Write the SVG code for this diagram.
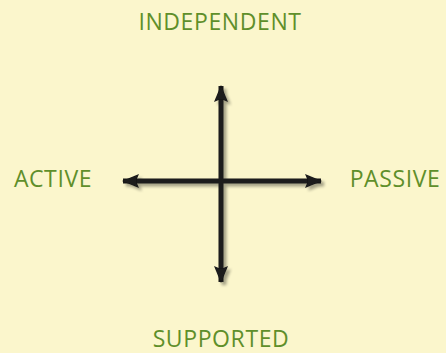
<svg xmlns="http://www.w3.org/2000/svg" width="446" height="353" viewBox="0 0 446 353">
<defs>
<style>
.lbl{font-family:"Open Sans","Liberation Sans",sans-serif;font-size:23px;fill:#5f8f2a;letter-spacing:0.6px}
.ax{stroke:#1a1a1a;stroke-width:5;fill:none}
</style>
<marker id="ah" viewBox="0 0 17 14" refX="16" refY="7" markerWidth="17" markerHeight="14" markerUnits="userSpaceOnUse" orient="auto">
<path d="M0,0 L17,7 L0,14 L3,7 Z" fill="#1a1a1a"/>
</marker>
<filter id="sh" x="-20%" y="-20%" width="140%" height="140%">
<feGaussianBlur in="SourceAlpha" stdDeviation="1.8"/>
<feOffset dx="3" dy="3" result="b"/>
<feComponentTransfer><feFuncA type="linear" slope="0.35"/></feComponentTransfer>
<feMerge><feMergeNode/><feMergeNode in="SourceGraphic"/></feMerge>
</filter>
</defs>
<rect width="446" height="353" fill="#fbf6cc"/>
<g id="connectors" filter="url(#sh)">
<line class="ax" x1="221" y1="181" x2="221" y2="86" marker-end="url(#ah)"/>
<line class="ax" x1="221" y1="181" x2="221" y2="282" marker-end="url(#ah)"/>
<line class="ax" x1="221" y1="181" x2="123" y2="181" marker-end="url(#ah)"/>
<line class="ax" x1="221" y1="181" x2="321" y2="181" marker-end="url(#ah)"/>
</g>
<g id="independent"><text class="lbl" x="220" y="30" text-anchor="middle">INDEPENDENT</text></g>
<g id="active"><text class="lbl" x="53" y="187" text-anchor="middle">ACTIVE</text></g>
<g id="passive"><text class="lbl" x="395" y="187" text-anchor="middle">PASSIVE</text></g>
<g id="supported"><text class="lbl" x="221" y="347" text-anchor="middle">SUPPORTED</text></g>
</svg>
